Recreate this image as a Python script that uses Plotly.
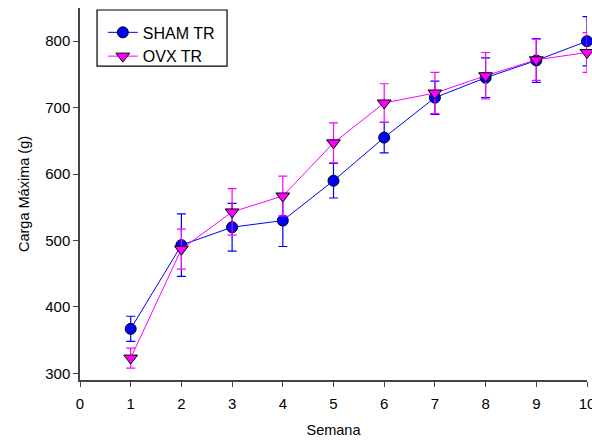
import plotly.graph_objects as go

semana = [1, 2, 3, 4, 5, 6, 7, 8, 9, 10]
sham_tr = [367, 493, 520, 530, 590, 655, 715, 745, 771, 800]
sham_err = [19, 47, 36, 39, 26, 23, 25, 30, 33, 37]
ovx_tr = [323, 487, 543, 567, 647, 707, 722, 748, 772, 783]
ovx_err = [15, 30, 35, 30, 30, 29, 31, 35, 31, 30]

fig = go.Figure()
fig.add_trace(go.Scatter(
    x=semana, y=sham_tr, name="SHAM TR", mode="lines+markers",
    line=dict(color="#0000FF", width=1),
    marker=dict(symbol="circle", size=11, color="#0000FF", line=dict(color="black", width=1)),
    error_y=dict(type="data", array=sham_err, color="#0000FF", thickness=1.2, width=4.5),
    cliponaxis=False,
))
fig.add_trace(go.Scatter(
    x=semana, y=ovx_tr, name="OVX TR", mode="lines+markers",
    line=dict(color="#FF00FF", width=1),
    marker=dict(symbol="triangle-down", size=12, color="#FF00FF", line=dict(color="black", width=1)),
    error_y=dict(type="data", array=ovx_err, color="#FF00FF", thickness=1.2, width=4.5),
    cliponaxis=False,
))

# legend frame
fig.add_shape(type="rect", xref="paper", yref="paper",
              x0=0.0336, x1=0.290, y0=0.844, y1=0.9946,
              line=dict(color="black", width=1.2), fillcolor="white", layer="below")

fig.update_layout(
    width=592, height=441,
    margin=dict(l=80, r=5, t=8, b=61, autoexpand=False),
    plot_bgcolor="white", paper_bgcolor="white",
    font=dict(family="Arial, Liberation Sans, sans-serif", size=15, color="black"),
    showlegend=True,
    legend=dict(
        x=0.045, y=0.98, xanchor="left", yanchor="top",
        borderwidth=0, bgcolor="rgba(0,0,0,0)",
        font=dict(size=16), tracegroupgap=0,
    ),
    xaxis=dict(
        range=[0, 10], tickmode="linear", tick0=0, dtick=1,
        showline=True, linecolor="#444444", linewidth=1.5,
        ticks="outside", ticklen=5, tickcolor="#444444",
        showgrid=False, zeroline=False, automargin=False,
        ticklabeloverflow="allow", ticklabelstandoff=4,
        title=dict(text="Semana", font=dict(size=14.5), standoff=14),
        tickfont=dict(size=15),
    ),
    yaxis=dict(
        range=[290, 850], tickmode="linear", tick0=300, dtick=100,
        showline=True, linecolor="#444444", linewidth=1.5,
        ticks="outside", ticklen=5, tickcolor="#444444",
        showgrid=False, zeroline=False, automargin=False,
        title=dict(text="Carga Máxima (g)", font=dict(size=14.5), standoff=12),
        tickfont=dict(size=15),
    ),
)

fig.write_html("out.html")
